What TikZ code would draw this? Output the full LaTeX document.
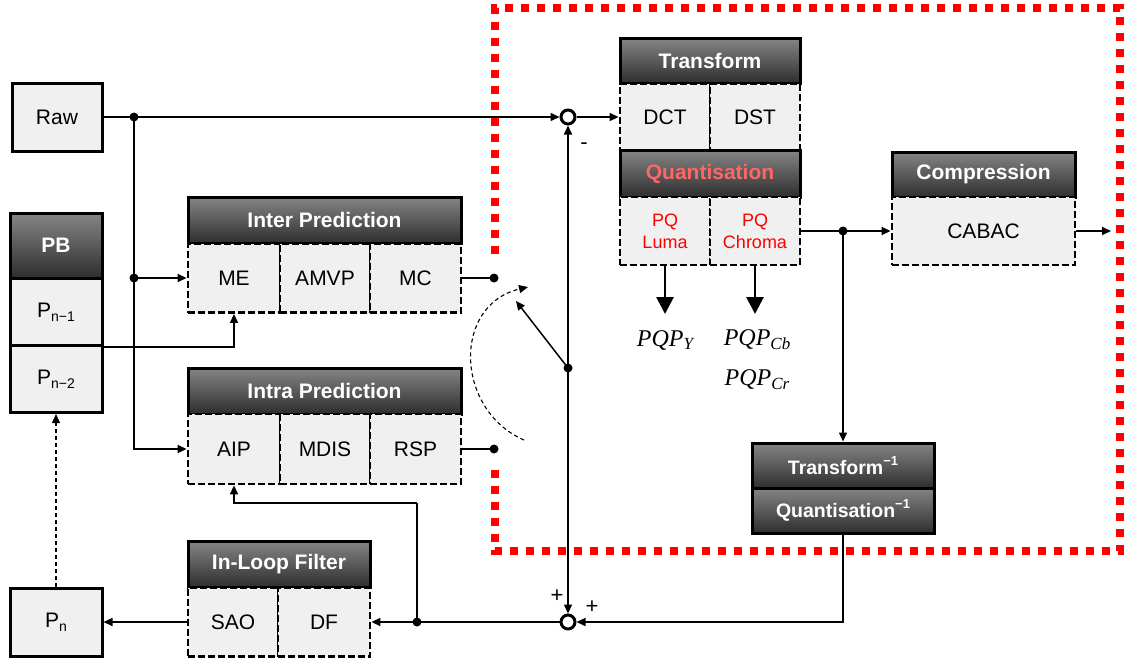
\documentclass[tikz,border=0pt]{standalone}
\usepackage{fontspec}
\setmainfont{Liberation Sans}
\newfontfamily\tms{Liberation Serif}
\usetikzlibrary{arrows.meta,shadings}
\definecolor{hdtop}{HTML}{858585}
\definecolor{hdbot}{HTML}{2E2E2E}
\definecolor{cellgray}{HTML}{F0F0F0}
\definecolor{qred}{HTML}{FF6666}
\newcommand{\sbs}[1]{\raisebox{-0.4ex}{\fontsize{14}{14}\selectfont #1}}
\newcommand{\sps}[1]{\raisebox{0.85ex}{\fontsize{13}{13}\selectfont #1}}
\newcommand{\pqp}[1]{{\tms\itshape\fontsize{24}{24}\selectfont PQP\raisebox{-0.35ex}{\fontsize{17}{17}\selectfont #1}}}
\begin{document}
\begin{tikzpicture}[x=1pt,y=-1pt,
  hdr/.style={draw=black, line width=3pt, top color=hdtop, bottom color=hdbot,
    text=white, font=\fontsize{21}{24}\selectfont\bfseries, inner sep=0pt},
  cell/.style={draw=black, line width=2.8pt, dash pattern=on 7pt off 3pt, fill=cellgray,
    font=\fontsize{21}{24}\selectfont, inner sep=0pt, align=center},
  sbox/.style={draw=black, line width=3pt, fill=cellgray,
    font=\fontsize{21}{24}\selectfont, inner sep=0pt},
  arr/.style={-{Triangle[length=9pt,width=8pt]}, line width=1.5pt},
  bigarr/.style={-{Triangle[length=17pt,width=17pt]}, line width=2.8pt},
  ln/.style={line width=1.5pt},
  dot/.style={circle, fill=black, inner sep=0pt, minimum size=9pt},
  sum/.style={circle, draw=black, line width=3pt, fill=white, inner sep=0pt, minimum size=14pt},
  lbl/.style={font=\fontsize{22}{22}\selectfont, inner sep=0pt}
]
\useasboundingbox (0,0) rectangle (1124,664);
% red dotted region
\draw[red, line width=8pt, dash pattern=on 8pt off 8pt] (495,254) -- (495,8) -- (1120,8) -- (1120,551) -- (495,551) -- (495,466);

% left column
\node[sbox, minimum width=90pt, minimum height=68pt] (raw) at (57,117) {Raw};
\node[hdr, minimum width=92pt, minimum height=65pt] (pb) at (56,245.5) {PB};
\node[sbox, minimum width=92pt, minimum height=67pt] (pn1) at (56,312) {P\sbs{n−1}};
\node[sbox, minimum width=92pt, minimum height=67pt] (pn2) at (56,379) {P\sbs{n−2}};
\node[sbox, minimum width=92pt, minimum height=68pt] (pn) at (56,622) {P\sbs{n}};

% inter prediction
\node[hdr, minimum width=273pt, minimum height=46pt] (inter) at (324.5,220) {Inter Prediction};
\node[cell, minimum width=92pt, minimum height=69pt] (me) at (234,278) {ME};
\node[cell, minimum width=90pt, minimum height=69pt] (amvp) at (325,278) {AMVP};
\node[cell, minimum width=91pt, minimum height=69pt] (mc) at (415.5,278) {MC};

% intra prediction
\node[hdr, minimum width=273pt, minimum height=46pt] (intra) at (324.5,391) {Intra Prediction};
\node[cell, minimum width=92pt, minimum height=70pt] (aip) at (234,449) {AIP};
\node[cell, minimum width=90pt, minimum height=70pt] (mdis) at (325,449) {MDIS};
\node[cell, minimum width=91pt, minimum height=70pt] (rsp) at (415.5,449) {RSP};

% in-loop filter
\node[hdr, minimum width=182pt, minimum height=46pt] (ilf) at (279,564) {In-Loop Filter};
\node[cell, minimum width=90pt, minimum height=69pt] (sao) at (233,622) {SAO};
\node[cell, minimum width=92pt, minimum height=69pt] (df) at (324,622) {DF};

% transform / quantisation
\node[hdr, minimum width=180pt, minimum height=45pt] (tr) at (710,60.5) {Transform};
\node[cell, minimum width=90pt, minimum height=67pt] (dct) at (665,117) {DCT};
\node[cell, minimum width=90pt, minimum height=67pt] (dst) at (755,117) {DST};
\node[hdr, minimum width=180pt, minimum height=47pt, text=qred] (qu) at (710,173.5) {Quantisation};
\node[cell, minimum width=90pt, minimum height=68pt, text=red, font=\fontsize{18}{22}\selectfont] (pql) at (665,231) {PQ\\Luma};
\node[cell, minimum width=90pt, minimum height=68pt, text=red, font=\fontsize{18}{22}\selectfont] (pqc) at (755,231) {PQ\\Chroma};

% compression
\node[hdr, minimum width=183pt, minimum height=45pt] (comp) at (983.5,174.5) {Compression};
\node[cell, minimum width=183pt, minimum height=68pt] (cabac) at (983.5,231) {CABAC};

% inverse
\node[hdr, minimum width=182pt, minimum height=45pt, font=\fontsize{19.5}{22}\selectfont\bfseries] (ti) at (843,465.5) {Transform\sps{−1}};
\node[hdr, minimum width=182pt, minimum height=45pt, font=\fontsize{19.5}{22}\selectfont\bfseries] (qi) at (843,510.5) {Quantisation\sps{−1}};

% PQP outputs
\node[inner sep=0pt] (pqpy) at (665,340) {\pqp{Y}};
\node[inner sep=0pt] (pqpcb) at (757,340) {\pqp{Cb}};
\node[inner sep=0pt] (pqpcr) at (757,380) {\pqp{Cr}};
\draw[bigarr] (pql.south) -- (665,314);
\draw[bigarr] (pqc.south) -- (755,314);

% summation points
\node[sum] (sumtop) at (568,117) {};
\node[sum] (sumbot) at (568,622) {};
\node[lbl] at (584,146) {-};
\node[lbl] at (557,596) {+};
\node[lbl] at (592,607) {+};

% dots
\node[dot] (d1) at (134,117) {};
\node[dot] (d2) at (134,278) {};
\node[dot] (dmc) at (494,278) {};
\node[dot] (drsp) at (494,449) {};
\node[dot] (ds) at (568,368) {};
\node[dot] (dc) at (843,231) {};
\node[dot] (ddf) at (417,622) {};
\coordinate (sw) at (516,301);
\coordinate (k1) at (417,503);
\coordinate (arcs) at (524,440);
\coordinate (arce) at (528,287);
\coordinate (out) at (1111,231);

% connectors
\draw[arr] (raw.east) -- (sumtop.west);
\draw[arr] (d1.center) |- (aip.west);
\draw[arr] (d2.center) -- (me.west);
\draw[arr] (sumtop.east) -- (dct.west);
\draw[ln] (mc.east) -- (dmc.center);
\draw[ln] (rsp.east) -- (drsp.center);
\draw[arr] (ds.center) -- (sumtop.south);
\draw[arr] (ds.center) -- (sumbot.north);
\draw[arr] (ds.center) -- (sw);
\draw[arr, line width=1.1pt, dash pattern=on 4pt off 3pt] (arcs) .. controls (455,410) and (452,305) .. (arce);
\draw[arr] (pn1.south east) -| (me.south);
\draw[ln] (pqc.east) -- (dc.center);
\draw[arr] (dc.center) -- (cabac.west);
\draw[arr] (cabac.east) -- (out);
\draw[arr] (dc.center) -- (ti.north);
\draw[arr] (qi.south) |- (sumbot.east);
\draw[arr] (sumbot.west) -- (df.east);
\draw[ln] (ddf.center) -- (k1);
\draw[arr] (k1) -| (aip.south);
\draw[arr] (sao.west) -- (pn.east);
\draw[arr, line width=1.1pt, dash pattern=on 4pt off 3pt] (pn.north) -- (pn2.south);
\end{tikzpicture}
\end{document}
